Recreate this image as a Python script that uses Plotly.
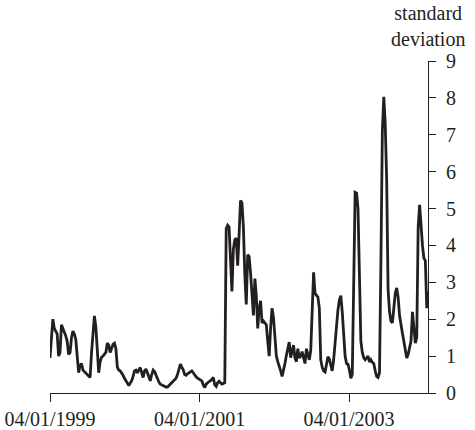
import pandas as pd
import plotly.graph_objects as go

start_date = "1999-01-04"
end_date = "2004-01-25"
# weekly observations starting 04/01/1999
std_dev = [
    0.95, 1.45, 2.0, 1.75, 1.65, 1.6, 1.0, 1.1, 1.85, 1.75,
    1.68, 1.55, 1.4, 1.05, 1.1, 1.5, 1.68, 1.6, 1.45, 0.95,
    0.55, 0.75, 0.8, 0.62, 0.58, 0.52, 0.5, 0.45, 0.42, 1.1,
    1.65, 2.09, 1.8, 1.3, 0.55, 0.85, 0.97, 1.0, 1.05, 1.1,
    1.35, 1.3, 1.1, 1.22, 1.32, 1.35, 1.2, 0.7, 0.62, 0.6,
    0.55, 0.48, 0.4, 0.33, 0.25, 0.2, 0.27, 0.33, 0.45, 0.6,
    0.62, 0.55, 0.62, 0.69, 0.55, 0.42, 0.6, 0.65, 0.55, 0.45,
    0.33, 0.5, 0.62, 0.58, 0.47, 0.4, 0.3, 0.24, 0.22, 0.19,
    0.18, 0.16, 0.16, 0.2, 0.24, 0.28, 0.32, 0.36, 0.4, 0.5,
    0.65, 0.78, 0.7, 0.63, 0.5, 0.48, 0.52, 0.55, 0.58, 0.6,
    0.55, 0.48, 0.44, 0.4, 0.37, 0.35, 0.33, 0.22, 0.15, 0.24,
    0.29, 0.31, 0.33, 0.38, 0.42, 0.22, 0.18, 0.28, 0.32, 0.28,
    0.24, 0.26, 0.28, 4.46, 4.55, 4.5, 3.6, 2.75, 3.9, 4.15,
    4.2, 3.45, 4.3, 5.22, 5.15, 4.5, 3.2, 2.4, 3.75, 3.7,
    3.25, 2.5, 2.1, 3.1, 2.65, 1.75, 2.3, 2.5, 1.9, 1.95,
    1.9, 1.85, 1.4, 1.0, 1.77, 2.3, 2.05, 1.5, 1.0, 0.85,
    0.75, 0.6, 0.45, 0.6, 0.8, 1.02, 1.25, 1.38, 0.96, 1.15,
    1.3, 0.95, 0.85, 1.2, 0.95, 1.0, 1.12, 0.95, 0.8, 1.2,
    1.05, 0.9, 1.15, 2.0, 3.27, 2.7, 2.65, 2.6, 2.3, 0.9,
    0.7, 0.6, 0.57, 0.75, 0.98, 0.92, 0.75, 0.6, 0.9, 1.35,
    1.9, 2.25, 2.52, 2.64, 2.2, 1.5, 1.0, 0.8, 0.78, 0.62,
    0.4, 0.5, 2.5, 5.44, 5.42, 5.0, 3.2, 1.4, 1.1, 0.95,
    0.9, 0.95, 1.0, 0.84, 0.9, 0.83, 0.8, 0.6, 0.45, 0.42,
    0.55, 3.59, 7.1, 8.03, 7.3, 5.8, 2.8, 2.2, 1.95, 1.9,
    2.3, 2.7, 2.85, 2.6, 2.1, 1.8, 1.62, 1.4, 1.2, 0.95,
    1.05, 1.25, 1.41, 2.2, 1.8, 1.35, 1.5, 4.5, 5.1, 4.49,
    4.0, 3.65, 3.59, 2.3, 2.75,
]
dates = pd.date_range(start_date, periods=len(std_dev), freq="7D")

tick_dates = ["1999-01-04", "2001-01-04", "2003-01-04"]
tick_labels = ["04/01/1999", "04/01/2001", "04/01/2003"]
y_ticks = list(range(0, 10))

ink = "#231f20"
font = dict(family="Liberation Serif, Times New Roman, serif", size=20, color=ink)

fig = go.Figure()
fig.add_trace(go.Scatter(
    x=dates, y=std_dev, mode="lines",
    line=dict(color=ink, width=2.8),
    showlegend=False, hoverinfo="skip", cliponaxis=False,
))

fig.update_layout(
    width=475, height=430,
    margin=dict(l=50, r=47, t=61, b=37),
    paper_bgcolor="white", plot_bgcolor="white",
    font=font,
    xaxis=dict(
        range=[start_date, end_date], automargin=False,
        tickvals=tick_dates, ticktext=tick_labels,
        ticklabeloverflow="allow",
        ticks="outside", ticklen=8, tickwidth=1, tickcolor=ink,
        showline=True, linecolor=ink, linewidth=1,
        showgrid=False, zeroline=False, tickfont=font,
    ),
    yaxis=dict(
        side="right", range=[0, 9], automargin=False,
        tickvals=y_ticks, ticklabeloverflow="allow",
        ticks="outside", ticklen=7, tickwidth=1, tickcolor=ink,
        ticklabelstandoff=6,
        showline=True, linecolor=ink, linewidth=1,
        showgrid=False, zeroline=False, tickfont=font,
    ),
    annotations=[dict(
        text="standard<br>deviation", xref="paper", yref="paper",
        x=1, y=1, xanchor="center", yanchor="bottom", yshift=9,
        showarrow=False, font=font, align="center",
    )],
)

fig.write_html(
    "out.html",
    config={"displayModeBar": False, "staticPlot": True},
    post_script="document.body.style.margin='0';document.body.style.overflow='hidden';",
)
